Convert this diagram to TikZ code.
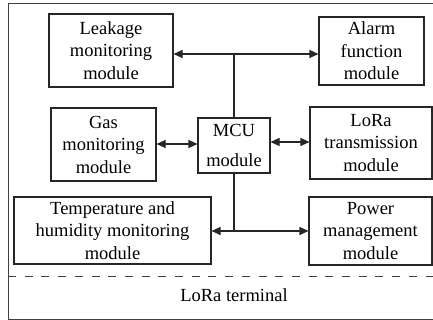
\documentclass[tikz,border=0pt]{standalone}
\usepackage{fontspec}
\setmainfont{Liberation Serif}
\usetikzlibrary{arrows.meta}
\begin{document}
\begin{tikzpicture}[x=1pt,y=-1pt,
  box/.style={draw=black!85,line width=1.1pt,inner sep=0pt,align=center,
    font=\fontsize{18.5}{22.5}\selectfont},
  conn/.style={draw=black!85,line width=1.1pt},
  tip/.style={{Triangle[length=9pt,width=8pt]}-{Triangle[length=9pt,width=8pt]}},
  frame/.style={draw=black!75,line width=1pt}]
\useasboundingbox (0,0) rectangle (433,320);
% frame
\draw[frame] (440,4) -- (8,4) -- (8,319) -- (440,319);
\draw[frame,dash pattern=on 8pt off 8.7pt] (8,276) -- (440,276);
\node[font=\fontsize{18.5}{22.5}\selectfont] (term) at (234,295) {LoRa terminal};
% boxes
\node[box,minimum width=124pt,minimum height=73pt] (leak) at (111,50.5) {Leakage\\monitoring\\module};
\node[box,minimum width=105pt,minimum height=68pt] (alarm) at (371.5,51) {Alarm\\function\\module};
\node[box,minimum width=105pt,minimum height=73pt] (gas) at (103.5,144.5) {Gas\\monitoring\\module};
\node[box,minimum width=72pt,minimum height=55pt] (mcu) at (234,145.5) {MCU\\[7pt]module};
\node[box,minimum width=122pt,minimum height=72pt] (lora) at (371,143) {LoRa\\transmission\\module};
\node[box,minimum width=197pt,minimum height=67pt] (temp) at (112.5,230.5) {Temperature and\\humidity monitoring\\module};
\node[box,minimum width=123pt,minimum height=68pt] (power) at (370.5,231) {Power\\management\\module};
% junctions
\coordinate (jt) at (234,54);
\coordinate (jb) at (234,231);
% connectors
\draw[conn,tip] (leak.east |- jt) -- (alarm.west |- jt);
\draw[conn] (mcu.north) -- (jt);
\draw[conn,tip] (gas.east |- 0,144) -- (mcu.west |- 0,144);
\draw[conn,tip] (mcu.east |- 0,142) -- (lora.west |- 0,142);
\draw[conn,tip] (temp.east |- jb) -- (power.west |- jb);
\draw[conn] (mcu.south) -- (jb);
\end{tikzpicture}
\end{document}
